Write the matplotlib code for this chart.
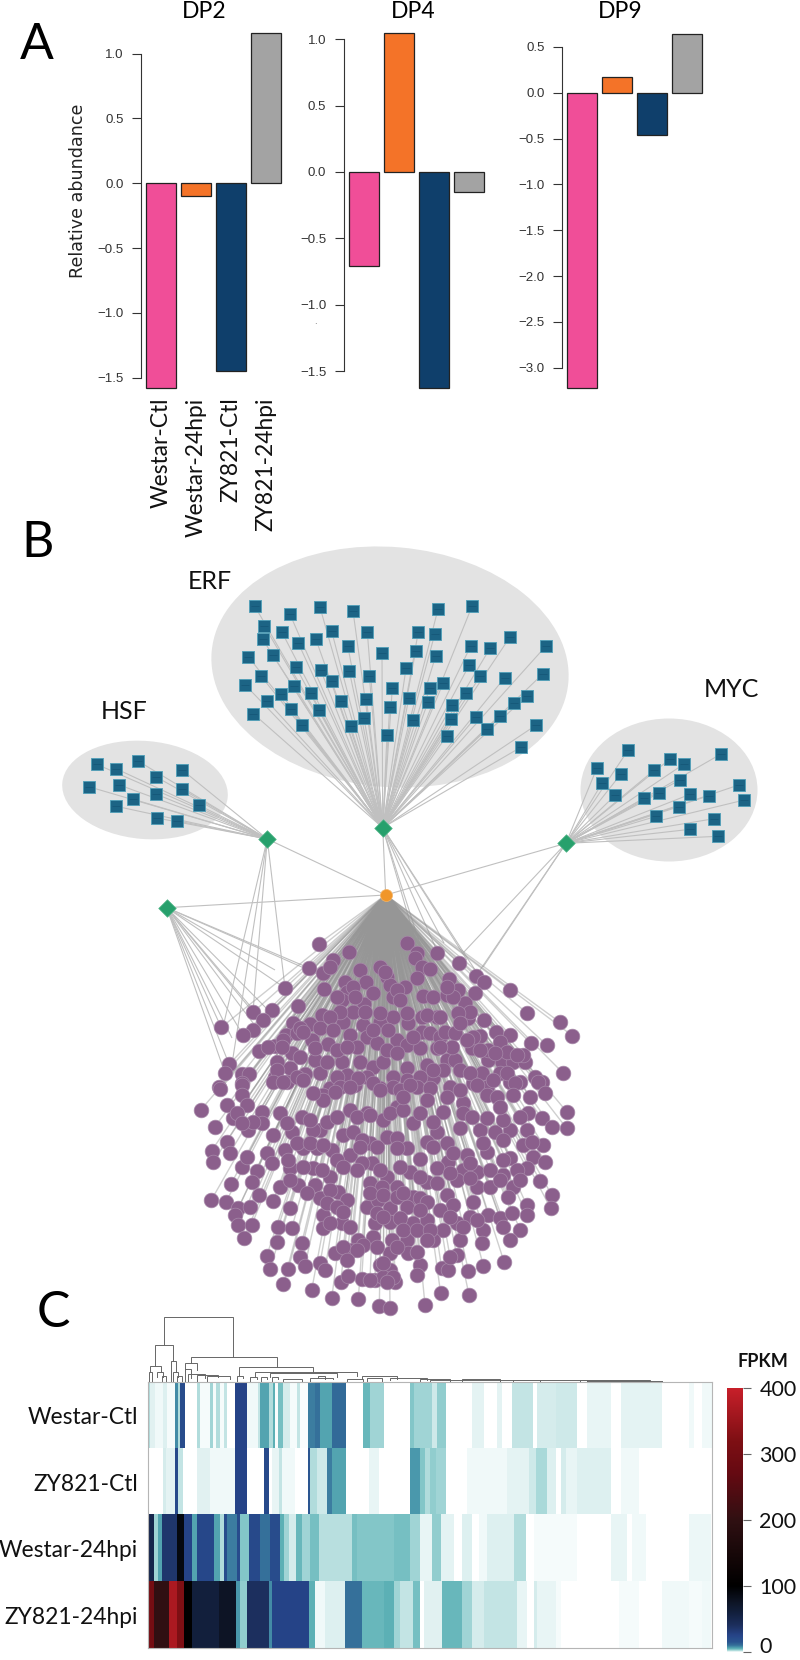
###############################################################################
# plot.py
# Three panel figure: A) relative abundance bars, B) TF network,
# C) FPKM heatmap with dendrogram and colour bar
###############################################################################

import numpy as np
import matplotlib
matplotlib.use('Agg')
import matplotlib.pyplot as plt
from matplotlib.collections import LineCollection
from matplotlib.colors import LinearSegmentedColormap
from matplotlib.patches import Ellipse
from matplotlib.transforms import ScaledTranslation

# --- Data: panel A -----------------------------------------------------------

SAMPLES = ['Westar-Ctl', 'Westar-24hpi', 'ZY821-Ctl', 'ZY821-24hpi']
DP2 = [-1.58, -0.10, -1.45, 1.16]
DP4 = [-0.705, 1.05, -1.625, -0.148]
DP9 = [-3.22, 0.167, -0.458, 0.636]
BAR_COLORS = ['#f04e98', '#f47328', '#0f3f6b', '#a3a3a3']

# --- Data: panel B (node layout, figure pixels) ------------------------------

ERF_NODES = [
    (254.7, 606), (290, 614.3), (320, 607.3), (353, 611), (264.3, 626), (281.7, 631.7),
    (331.7, 631.3), (367.3, 632), (262.7, 639.3), (298.3, 643), (315.7, 638.7), (347.7, 645.7),
    (382, 653.3), (248.3, 656.7), (272.7, 654.7), (296, 667.3), (320.7, 670), (349.3, 671),
    (369.3, 676), (260.7, 675.7), (245, 684.7), (331.7, 681.3), (294, 685.7), (280.7, 693.7),
    (310.7, 692.7), (392.3, 688.3), (267.3, 701.3), (341.3, 701), (366.3, 699.3), (291, 709),
    (318.7, 710.3), (389.7, 707), (253.3, 713.7), (364, 718), (301.7, 724.7), (350.7, 726.3),
    (387, 735), (438, 609), (472, 606.3), (418.3, 632), (434.7, 634.3), (470.7, 646),
    (490, 648.3), (510, 637), (545.7, 646.3), (415.7, 650.7), (435.7, 656), (406, 668.3),
    (469.3, 665), (480.3, 676), (504.7, 677.7), (542.7, 674), (443.3, 682.7), (429.7, 688.3),
    (409, 697.7), (428, 702), (466.3, 692.7), (527.3, 695.7), (514.3, 703.3), (452, 705.3),
    (413.3, 719.7), (450.7, 719), (475.7, 717.3), (500.3, 716), (536.3, 725), (486.7, 728.7),
    (446.7, 736), (521.3, 747),
]
HSF_NODES = [
    (96.7, 764.3), (116, 768.7), (138, 761), (156.3, 777), (182.3, 770), (88.7, 786.7),
    (119.3, 785), (155.7, 794), (182.3, 789.3), (133.3, 799.3), (116.3, 806.3), (199, 805.3),
    (156.7, 818), (176.7, 820.7),
]
MYC_NODES = [
    (628, 750.3), (597, 767.7), (621, 774), (654, 770.3), (670.3, 758.7), (684, 764),
    (721, 754), (602.3, 782.7), (615.3, 795), (679.7, 780), (643.7, 798.3), (659, 793),
    (690, 794.3), (708.7, 795.7), (738.7, 785), (744.3, 800), (678.7, 806.7), (656.3, 816.3),
    (714, 818.7), (690.3, 829.3), (718.3, 836.3),
]

HSF_HUB = (267.3, 839)
ERF_HUB = (382.7, 827.7)
MYC_HUB = (566, 843.3)
LEFT_HUB = (166.7, 907.7)
CENTER_HUB = (385.7, 895)

# purple targets, read in three overlapping regions of the picture (offsets at 3x)
PURPLE_TOP_LEFT = [
    (536, 191), (626, 216), (508, 264), (548, 280), (578, 240), (570, 262), (436, 323), (552, 328),
    (660, 270), (720, 260), (740, 290), (616, 305), (678, 305), (800, 190), (830, 218), (825, 235),
    (845, 262), (870, 268), (830, 295), (890, 218), (750, 315), (795, 320), (620, 335), (605, 360),
    (672, 372), (760, 350), (850, 348), (880, 350), (474, 378), (396, 389), (340, 396), (368, 420),
    (340, 450), (310, 464), (244, 442), (545, 405), (510, 432), (460, 430), (610, 425), (670, 435),
    (720, 425), (760, 410), (805, 430), (845, 410), (845, 455), (890, 410), (437, 465), (470, 460),
    (540, 445), (405, 497), (455, 520), (515, 480), (565, 492), (630, 465), (680, 470), (770, 480),
    (800, 495), (840, 505), (890, 505), (358, 513), (410, 545), (450, 565), (525, 540), (605, 545),
    (660, 545), (700, 560), (730, 545), (800, 565), (860, 555), (268, 553), (255, 580), (305, 582),
    (328, 582), (405, 590), (440, 605), (495, 582), (620, 585), (238, 622), (305, 610), (645, 615),
    (720, 625), (800, 600), (880, 595), (570, 625),
    (735, 275), (770, 330), (780, 360), (640, 320), (590, 350), (645, 350), (700, 340), (640, 395),
    (675, 395), (600, 395), (570, 410), (480, 445), (430, 480), (385, 500), (425, 500), (490, 455),
    (525, 505), (590, 510), (650, 500), (710, 490), (740, 510), (770, 520), (820, 470), (870, 460),
    (860, 405), (900, 470), (410, 570), (480, 530), (540, 580), (590, 590), (680, 590), (760, 590),
    (840, 590), (470, 590), (600, 620), (700, 610), (830, 620), (760, 620), (720, 400), (800, 400),
    (700, 450), (745, 450), (580, 450), (620, 500), (560, 545), (655, 595),
]
PURPLE_TOP_RIGHT = [
    (478, 250), (527, 287), (553, 305), (630, 330), (682, 400), (780, 427), (817, 467), (447, 297),
    (475, 330), (440, 345), (525, 340), (495, 370), (420, 410), (505, 415), (553, 420), (435, 455),
    (465, 460), (540, 467), (587, 455), (630, 465), (600, 487), (692, 490), (740, 495), (517, 505),
    (565, 540), (605, 545), (640, 545), (675, 545), (670, 525), (788, 578), (600, 580), (545, 580),
    (630, 605), (660, 605), (705, 590), (725, 605), (440, 540), (465, 540), (430, 570), (520, 610),
    (560, 620),
    (460, 350), (440, 320), (510, 395), (475, 400), (480, 430), (520, 470), (565, 510), (500, 480),
    (540, 510), (620, 515), (650, 525), (585, 520), (455, 500), (420, 500), (480, 570), (510, 580),
    (580, 600), (620, 580), (400, 570),
]
PURPLE_BOTTOM = [
    (150, 28), (215, 15), (215, 45), (310, 5), (340, 5), (400, 0), (460, 45), (495, 35), (540, 20),
    (630, 30), (690, 30), (720, 15), (780, 25), (840, 20), (920, 15), (1035, 10), (1105, 5),
    (1125, 40), (1080, 50), (1030, 45), (950, 45), (880, 70), (820, 95), (770, 60), (680, 80),
    (640, 120), (590, 100), (540, 90), (460, 60), (430, 40), (92, 90), (172, 75), (230, 75),
    (275, 95), (190, 115), (330, 100), (395, 110), (450, 150), (470, 125), (520, 165), (550, 155),
    (600, 190), (575, 180), (650, 170), (680, 175), (710, 205), (730, 130), (800, 155), (770, 185),
    (830, 190), (870, 145), (880, 100), (930, 150), (975, 155), (1020, 150), (1070, 150),
    (1115, 115), (1145, 140), (1190, 95), (1190, 145), (1120, 195), (1060, 195), (1075, 100),
    (950, 115), (135, 140), (235, 150), (275, 130), (310, 165), (365, 155), (430, 150), (345, 210),
    (400, 205), (440, 205), (485, 210), (540, 225), (605, 250), (750, 238), (835, 245), (890, 225),
    (950, 215), (1020, 235), (1090, 232), (1125, 245), (1070, 265), (1000, 285), (1040, 270),
    (920, 275), (880, 270), (800, 265), (170, 185), (180, 218), (125, 212), (130, 245), (215, 260),
    (230, 230), (290, 220), (305, 250), (260, 272), (245, 305), (360, 265), (430, 265), (480, 290),
    (575, 250), (600, 310), (650, 290), (720, 275), (770, 305), (330, 320), (385, 315), (435, 315),
    (505, 335), (635, 320), (680, 320), (730, 350), (800, 310), (860, 300), (920, 320), (960, 320),
    (1030, 320), (1110, 302), (1145, 345), (1142, 385), (1070, 375), (1015, 350), (183, 312),
    (267, 345), (310, 362), (124, 360), (168, 365), (205, 385), (240, 380), (195, 405), (360, 385),
    (450, 355), (530, 360), (590, 380), (625, 360), (660, 385), (750, 355), (830, 345), (850, 375),
    (810, 390), (910, 365), (1070, 405), (955, 405), (990, 415), (1050, 450), (1020, 480),
    (900, 410), (940, 450), (935, 488), (205, 435), (245, 435), (222, 475), (325, 440), (365, 445),
    (395, 490), (322, 485), (460, 405), (460, 445), (515, 430), (615, 430), (660, 425), (730, 430),
    (770, 420), (820, 450), (860, 430), (710, 480), (790, 480), (870, 480), (565, 480), (610, 470),
    (665, 480), (545, 510), (580, 495), (290, 528), (390, 530), (495, 520), (660, 520), (715, 520),
    (300, 567), (355, 568), (405, 557), (450, 550), (465, 570), (630, 555), (660, 570), (750, 555),
    (815, 565), (835, 570), (860, 525), (895, 572), (940, 557), (1002, 545), (340, 612), (425, 630),
    (512, 605), (533, 588), (575, 597), (615, 600), (640, 590), (675, 605), (740, 585), (485, 655),
    (565, 657), (628, 677), (660, 683), (765, 675), (812, 640), (897, 645),
    (200, 100), (250, 125), (215, 130), (350, 130), (420, 120), (500, 110), (560, 110), (600, 105),
    (660, 100), (700, 90), (700, 50), (750, 100), (790, 125), (830, 50), (870, 30), (980, 50),
    (1000, 120), (1050, 110), (990, 80), (905, 110), (940, 190), (1000, 180), (1085, 185),
    (380, 190), (420, 190), (460, 195), (500, 240), (570, 200), (620, 200), (680, 205), (790, 200),
    (850, 220), (900, 250), (960, 270), (1000, 240), (355, 240), (400, 260), (455, 270), (520, 260),
    (560, 270), (630, 270), (690, 260), (750, 290), (840, 280), (900, 295), (990, 300), (1050, 300),
    (360, 300), (410, 340), (480, 330), (470, 370), (500, 380), (520, 395), (600, 340), (640, 345),
    (680, 350), (700, 340), (770, 365), (710, 380), (750, 390), (620, 400), (640, 410), (690, 415),
    (700, 450), (740, 450), (780, 450), (840, 410), (880, 440), (920, 420), (1000, 440), (1025, 400),
    (540, 440), (480, 430), (520, 500), (560, 510), (620, 500), (680, 500), (740, 515), (770, 480),
    (840, 530), (640, 550), (670, 590), (650, 605), (600, 600), (530, 540),
]

# extra edges from the other hubs into the purple group (figure pixels)
LEFT_HUB_TARGETS = [
    (285, 988), (253, 1012), (269, 1011), (262, 1020), (221, 1027), (243, 1035), (232, 1038),
    (259, 1031), (229, 1064), (225, 1073), (275, 970), (309, 968), (320, 975),
]
HSF_HUB_TARGETS = [(223, 1027), (253, 1012), (285, 988), (232, 1064)]
ERF_HUB_TARGETS = [(444, 943), (416, 943), (438, 953), (467, 960), (479, 976), (425, 960)]
MYC_HUB_TARGETS = [(463, 953), (476, 976), (483, 967)]

# --- Data: panel C -----------------------------------------------------------

HEAT_ROWS = ['Westar-Ctl', 'ZY821-Ctl', 'Westar-24hpi', 'ZY821-24hpi']
COLORBAR_TICKS = [0, 100, 200, 300, 400]

# run ends along the gene axis and the FPKM of each run
WESTAR_CTL_ENDS = [
    450, 465, 488, 500, 525, 532, 540, 555, 590, 598, 628, 638, 648, 658, 672, 680, 705, 740, 772,
    780, 805, 818, 825, 832, 847, 868, 890, 898, 922, 945, 960, 995, 1037, 1088, 1110, 1150, 1228,
    1240, 1295, 1310, 1335, 1415, 1450, 1490, 1505, 1533, 1598, 1608, 1665, 1730, 1760, 1830, 1862,
    1985, 2065, 2080, 2105, 2137,
]
WESTAR_CTL_VALS = [
    2, 0.7, 0.3, 0.8, 0.2, 8, 2, 20, 0, 2, 0.2, 2.5, 0.2, 2, 0.2, 1.5, 0, 25, 0.3, 1.5, 6, 2, 5,
    0.1, 4, 1, 0.2, 1.5, 0.1, 9, 10, 6, 11, 0, 4.5, 2.5, 0, 3.5, 2.5, 1.2, 3, 0, 0.6, 0, 0.6, 0, 1.5,
    0, 1, 1.2, 0, 0.5, 0, 0.6, 0, 0.3, 0, 0.3,
]
ZY821_CTL_ENDS = [
    487, 497, 525, 532, 548, 590, 630, 705, 740, 790, 805, 815, 835, 845, 885, 922, 930, 950, 980,
    995, 1037, 1105, 1135, 1228, 1260, 1275, 1290, 1305, 1335, 1400, 1520, 1585, 1605, 1640, 1665,
    1682, 1697, 1730, 1830, 1860, 1915, 2137,
]
ZY821_CTL_VALS = [
    0, 1, 0.6, 22, 1.5, 0, 0.7, 0.3, 25, 0, 22, 0, 0.5, 1.5, 0.3, 0, 15, 2, 1.2, 9, 6, 0, 0.5, 0, 7,
    3.5, 2, 3, 2.5, 0, 0.3, 0.6, 1.2, 2.2, 0.8, 0, 1, 0.5, 0.8, 0, 0.3, 0,
]
WESTAR_24_ENDS = [
    460, 472, 485, 530, 550, 575, 590, 640, 658, 672, 680, 710, 718, 745, 780, 810, 838, 850, 865,
    888, 905, 930, 955, 1055, 1070, 1130, 1180, 1230, 1260, 1295, 1320, 1360, 1385, 1415, 1435, 1460,
    1540, 1575, 1600, 1730, 1830, 1880, 1895, 1935, 2065, 2130, 2137,
]
WESTAR_24_VALS = [
    50, 2.5, 6, 35, 90, 25, 6, 23, 6, 2, 20, 9, 20, 3.5, 22, 10, 20, 5, 2.5, 1, 4.5, 2.5, 4, 1.8, 4,
    3.5, 3.5, 4, 2.5, 0.5, 3, 0.6, 0, 0.8, 0, 0.3, 0.8, 2, 0, 0.2, 0, 0.5, 0, 0.3, 0, 0.4, 0,
]
ZY821_24_ENDS = [
    462, 505, 530, 550, 575, 655, 708, 718, 740, 805, 815, 925, 945, 975, 1035, 1050, 1085, 1150,
    1180, 1200, 1238, 1260, 1270, 1325, 1385, 1415, 1450, 1550, 1580, 1600, 1610, 1665, 1680, 1855,
    1915, 1985, 2065, 2105, 2132, 2137,
]
ZY821_24_VALS = [
    300, 200, 370, 320, 100, 60, 75, 7, 3, 40, 8, 25, 5, 0.3, 0.8, 10, 10, 4.5, 5, 2.5, 1.5, 4, 0,
    0.7, 4.5, 2.5, 1, 1.5, 0.5, 0, 1, 0.5, 0.2, 0, 0.2, 0, 0.3, 0.2, 0.3, 0,
]

# dendrogram merges: left x, right x, merge height, left child height, right child height
DENDRO_LINKS = [
    (492, 700, 20, 105, 140), (465, 520, 105, 167, 152), (450, 482, 167, 185, 185),
    (512, 527, 152, 212, 185), (572, 830, 140, 158, 172), (555, 592, 158, 178, 180),
    (718, 940, 172, 195, 185), (765, 1070, 185, 200, 198), (810, 1010, 190, 200, 200),
    (447, 456, 185, 212, 212), (472, 490, 185, 200, 200), (487, 497, 198, 212, 212),
    (520, 535, 185, 212, 200), (530, 545, 198, 212, 212), (556, 572, 178, 212, 205),
    (565, 615, 192, 212, 204), (590, 655, 194, 212, 200), (620, 690, 198, 212, 206),
    (710, 730, 197, 212, 205), (750, 770, 200, 212, 206), (782, 800, 202, 212, 208),
    (815, 835, 202, 212, 208), (850, 905, 206, 212, 212), (930, 1000, 204, 212, 208),
    (955, 975, 199, 204, 208), (1040, 1090, 206, 212, 212), (1085, 1190, 198, 206, 206),
    (1100, 1145, 204, 212, 212), (1170, 1280, 204, 210, 210), (1260, 1350, 207, 212, 212),
    (1385, 1500, 207, 212, 212), (1540, 1620, 209, 212, 212), (1740, 1950, 210, 212, 212),
    (1290, 1500, 210, 213, 213), (1500, 1760, 211, 214, 214), (1760, 1985, 212, 214, 214),
]

# FPKM stops of the colour scale, from the colour bar and the heatmap
CMAP_VALUES = [0, 0.3, 1, 2, 3.5, 5, 7, 10, 15, 25, 40, 60, 75, 100, 200, 270, 320, 400]
CMAP_COLORS = ['#ffffff', '#f0f9f9', '#d5ecec', '#b0dcdc', '#82c6c8', '#5cb0b5', '#4a98ac',
               '#35709a', '#2a5590', '#264488', '#1c2f5e', '#121f3c', '#0e1526', '#000000',
               '#301012', '#650a12', '#7e0f14', '#c8202a']

# --- Helpers -----------------------------------------------------------------

W, H = 800, 1660


def axes_px(fig, left, top, right, bottom):
    """Add axes placed by figure pixels (y measured from the top)."""
    return fig.add_axes([left / W, 1 - bottom / H, (right - left) / W, (bottom - top) / H])


def from_crop(points, x0, y0):
    """Turn positions read in a 3x crop into figure pixels."""
    pts = np.array(points, dtype=float)
    return np.column_stack([x0 + pts[:, 0] / 3, y0 + pts[:, 1] / 3])


def draw_bars(fig, values, title, spine_x, bar0_x, zero_y, unit, title_x, ticks, show_labels=False):
    top, bottom = 25, 392
    right = bar0_x + 3 * 35 + 18
    ax = axes_px(fig, spine_x, top, right, bottom)
    ax.bar(range(4), values, width=30 / 35, color=BAR_COLORS, edgecolor='#222222', linewidth=0.9)
    ax.set_xlim((spine_x - bar0_x) / 35, (right - bar0_x) / 35)
    ax.set_ylim((zero_y - bottom) / unit, (zero_y - top) / unit)
    ax.set_yticks(ticks)
    ax.patch.set_visible(False)
    for side in ['top', 'right', 'bottom']:
        ax.spines[side].set_visible(False)
    ax.spines['left'].set_bounds(min(ticks), max(ticks))
    ax.spines['left'].set_linewidth(0.8)
    ax.spines['left'].set_color('#333333')
    ax.tick_params(axis='y', length=6.5, width=0.8, color='#333333', pad=6, labelsize=9.5,
                   labelcolor='#333333')
    for label in ax.get_yticklabels():
        label.set_fontfamily('Liberation Sans')
    if show_labels:
        ax.set_xticks(range(4))
        ax.set_xticklabels(SAMPLES, rotation=90, fontsize=16.4, family='Lato', color='#111111')
        ax.tick_params(axis='x', length=0, pad=4)
    else:
        ax.set_xticks([])
    fig.text(title_x / W, 1 - 11 / H, title, ha='center', va='center', fontsize=16.5, family='Lato')
    return ax


# --- Figure ------------------------------------------------------------------

fig = plt.figure(figsize=(8, 16.6), dpi=100)

# Panel B sits under everything, drawn in figure pixels
net = fig.add_axes([0, 0, 1, 1])
net.set_xlim(0, W)
net.set_ylim(H, 0)
net.axis('off')

blob_color = '#e3e3e3'
net.add_patch(Ellipse((390, 667), 358, 240, angle=5, color=blob_color, lw=0, zorder=1))
net.add_patch(Ellipse((145, 790), 166, 98, angle=5, color=blob_color, lw=0, zorder=1))
net.add_patch(Ellipse((669, 790), 177, 143, color=blob_color, lw=0, zorder=1))

purple = np.vstack([
    from_crop(PURPLE_TOP_LEFT, 140, 880),
    from_crop(PURPLE_TOP_RIGHT, 300, 880),
    from_crop(PURPLE_BOTTOM, 170, 1080),
])
erf = np.array(ERF_NODES)
hsf = np.array(HSF_NODES)
myc = np.array(MYC_NODES)

edges = []
edges += [(ERF_HUB, tuple(p)) for p in erf]
edges += [(HSF_HUB, tuple(p)) for p in hsf]
edges += [(MYC_HUB, tuple(p)) for p in myc]
edges += [(LEFT_HUB, p) for p in LEFT_HUB_TARGETS]
edges += [(HSF_HUB, p) for p in HSF_HUB_TARGETS]
edges += [(ERF_HUB, p) for p in ERF_HUB_TARGETS]
edges += [(MYC_HUB, p) for p in MYC_HUB_TARGETS]
edges += [(CENTER_HUB, h) for h in [LEFT_HUB, HSF_HUB, ERF_HUB, MYC_HUB]]
net.add_collection(LineCollection(edges, colors='#c0c0c0', linewidths=0.8, zorder=2))
center_edges = [(CENTER_HUB, tuple(p)) for p in purple]
net.add_collection(LineCollection(center_edges, colors='#969696', linewidths=1.0, alpha=0.45, zorder=2))

net.scatter(purple[:, 0], purple[:, 1], s=112, c='#8b5f8c', edgecolors='#a88aaa', linewidths=0.5,
            zorder=3)

for nodes in [erf, hsf, myc]:
    net.scatter(nodes[:, 0], nodes[:, 1], s=84, marker='s', c='#1c6485', edgecolors='#4f9fb8',
                linewidths=0.6, zorder=3)
    net.scatter(nodes[:, 0], nodes[:, 1], s=34, marker='_', c='#155878', linewidths=0.6, zorder=4)

hubs = np.array([HSF_HUB, ERF_HUB, MYC_HUB, LEFT_HUB])
net.scatter(hubs[:, 0], hubs[:, 1], s=80, marker='D', c='#27a06c', edgecolors='#55b88c',
            linewidths=0.5, zorder=5)
net.scatter(*CENTER_HUB, s=75, marker='o', c='#f0962a', edgecolors='#f5b465', linewidths=0.5,
            zorder=5)

for text, x, y in [('ERF', 210, 581), ('HSF', 124, 711), ('MYC', 731, 689)]:
    net.text(x, y, text, ha='center', va='center', fontsize=18, family='Lato', color='#111111')
for text, x, y in [('A', 37, 45), ('B', 38, 543), ('C', 53, 1313)]:
    net.text(x, y, text, ha='center', va='center', fontsize=36, family='Lato', color='black')
net.text(315, 322, '.', ha='center', va='center', fontsize=6, color='#555555')

# Panel A
draw_bars(fig, DP2, 'DP2', 141, 161, 183.3, 129.6, 204,
          [-1.5, -1.0, -0.5, 0.0, 0.5, 1.0], show_labels=True)
draw_bars(fig, DP4, 'DP4', 343.6, 363.8, 172, 132.7, 413, [-1.5, -1.0, -0.5, 0.0, 0.5, 1.0])
draw_bars(fig, DP9, 'DP9', 562, 581.5, 92.7, 91.7, 620,
          [-3.0, -2.5, -2.0, -1.5, -1.0, -0.5, 0.0, 0.5])
fig.text(78 / W, 1 - 191 / H, 'Relative abundance', rotation=90, ha='center', va='center',
         fontsize=12.6, family='DejaVu Sans', color='#222222')

# Panel C heatmap: one row per sample, genes along x
stops = [(v / 400, c) for v, c in zip(CMAP_VALUES, CMAP_COLORS)]
cmap = LinearSegmentedColormap.from_list('fpkm', stops, N=8192)

row_ends = [WESTAR_CTL_ENDS, ZY821_CTL_ENDS, WESTAR_24_ENDS, ZY821_24_ENDS]
row_vals = [WESTAR_CTL_VALS, ZY821_CTL_VALS, WESTAR_24_VALS, ZY821_24_VALS]

grid = np.zeros((4, 2137 - 443))
for i, (ends, vals) in enumerate(zip(row_ends, row_vals)):
    assert len(ends) == len(vals), (i, len(ends), len(vals))
    start = 443
    for end, val in zip(ends, vals):
        grid[i, start - 443:end - 443] = val
        start = end

heat = axes_px(fig, 147.7, 1382.3, 712.3, 1648.3)
heat.imshow(grid, aspect='auto', cmap=cmap, vmin=0, vmax=400, interpolation='nearest',
            extent=(443, 2137, 3.5, -0.5))
heat.set_xticks([])
heat.set_yticks(range(4))
heat.set_yticklabels(HEAT_ROWS, fontsize=16.4, family='Lato', color='#111111')
heat.tick_params(axis='y', length=0, pad=7)
for spine in heat.spines.values():
    spine.set_color('#b5b5b5')
    spine.set_linewidth(0.8)

# Dendrogram on top of the heatmap, same gene axis
den = axes_px(fig, 147.7, 1310, 712.3, 1382.3)
den.set_xlim(443, 2137)
den.set_ylim(217, 0)
den.axis('off')
for xl, xr, top, yl, yr in DENDRO_LINKS:
    den.plot([xl, xl, xr, xr], [yl, top, top, yr], color='#666666', lw=0.7, solid_joinstyle='miter')

# Colour bar
cax = axes_px(fig, 727.3, 1388, 742.7, 1651.7)
ramp = np.linspace(0, 400, 1024).reshape(-1, 1)
cax.imshow(ramp, aspect='auto', cmap=cmap, vmin=0, vmax=400, origin='lower', extent=(0, 1, 0, 400))
cax.set_xticks([])
cax.yaxis.tick_right()
cax.set_yticks(COLORBAR_TICKS)
cax.set_yticklabels([str(t) for t in COLORBAR_TICKS], fontsize=15.5, family='Lato', color='#111111')
cax.tick_params(axis='y', length=5.5, width=0.8, color='#666666', pad=6.5)
# the 0 would hit the bottom edge of the figure, nudge it up a little
zero_label = cax.get_yticklabels()[0]
zero_label.set_transform(zero_label.get_transform() + ScaledTranslation(0, 5 / 72, fig.dpi_scale_trans))
for spine in cax.spines.values():
    spine.set_visible(False)
fig.text(762.7 / W, 1 - 1361 / H, 'FPKM', ha='center', va='center', fontsize=13, fontweight='bold',
         family='Lato', color='#111111')

fig.savefig('out.png', dpi=100)
